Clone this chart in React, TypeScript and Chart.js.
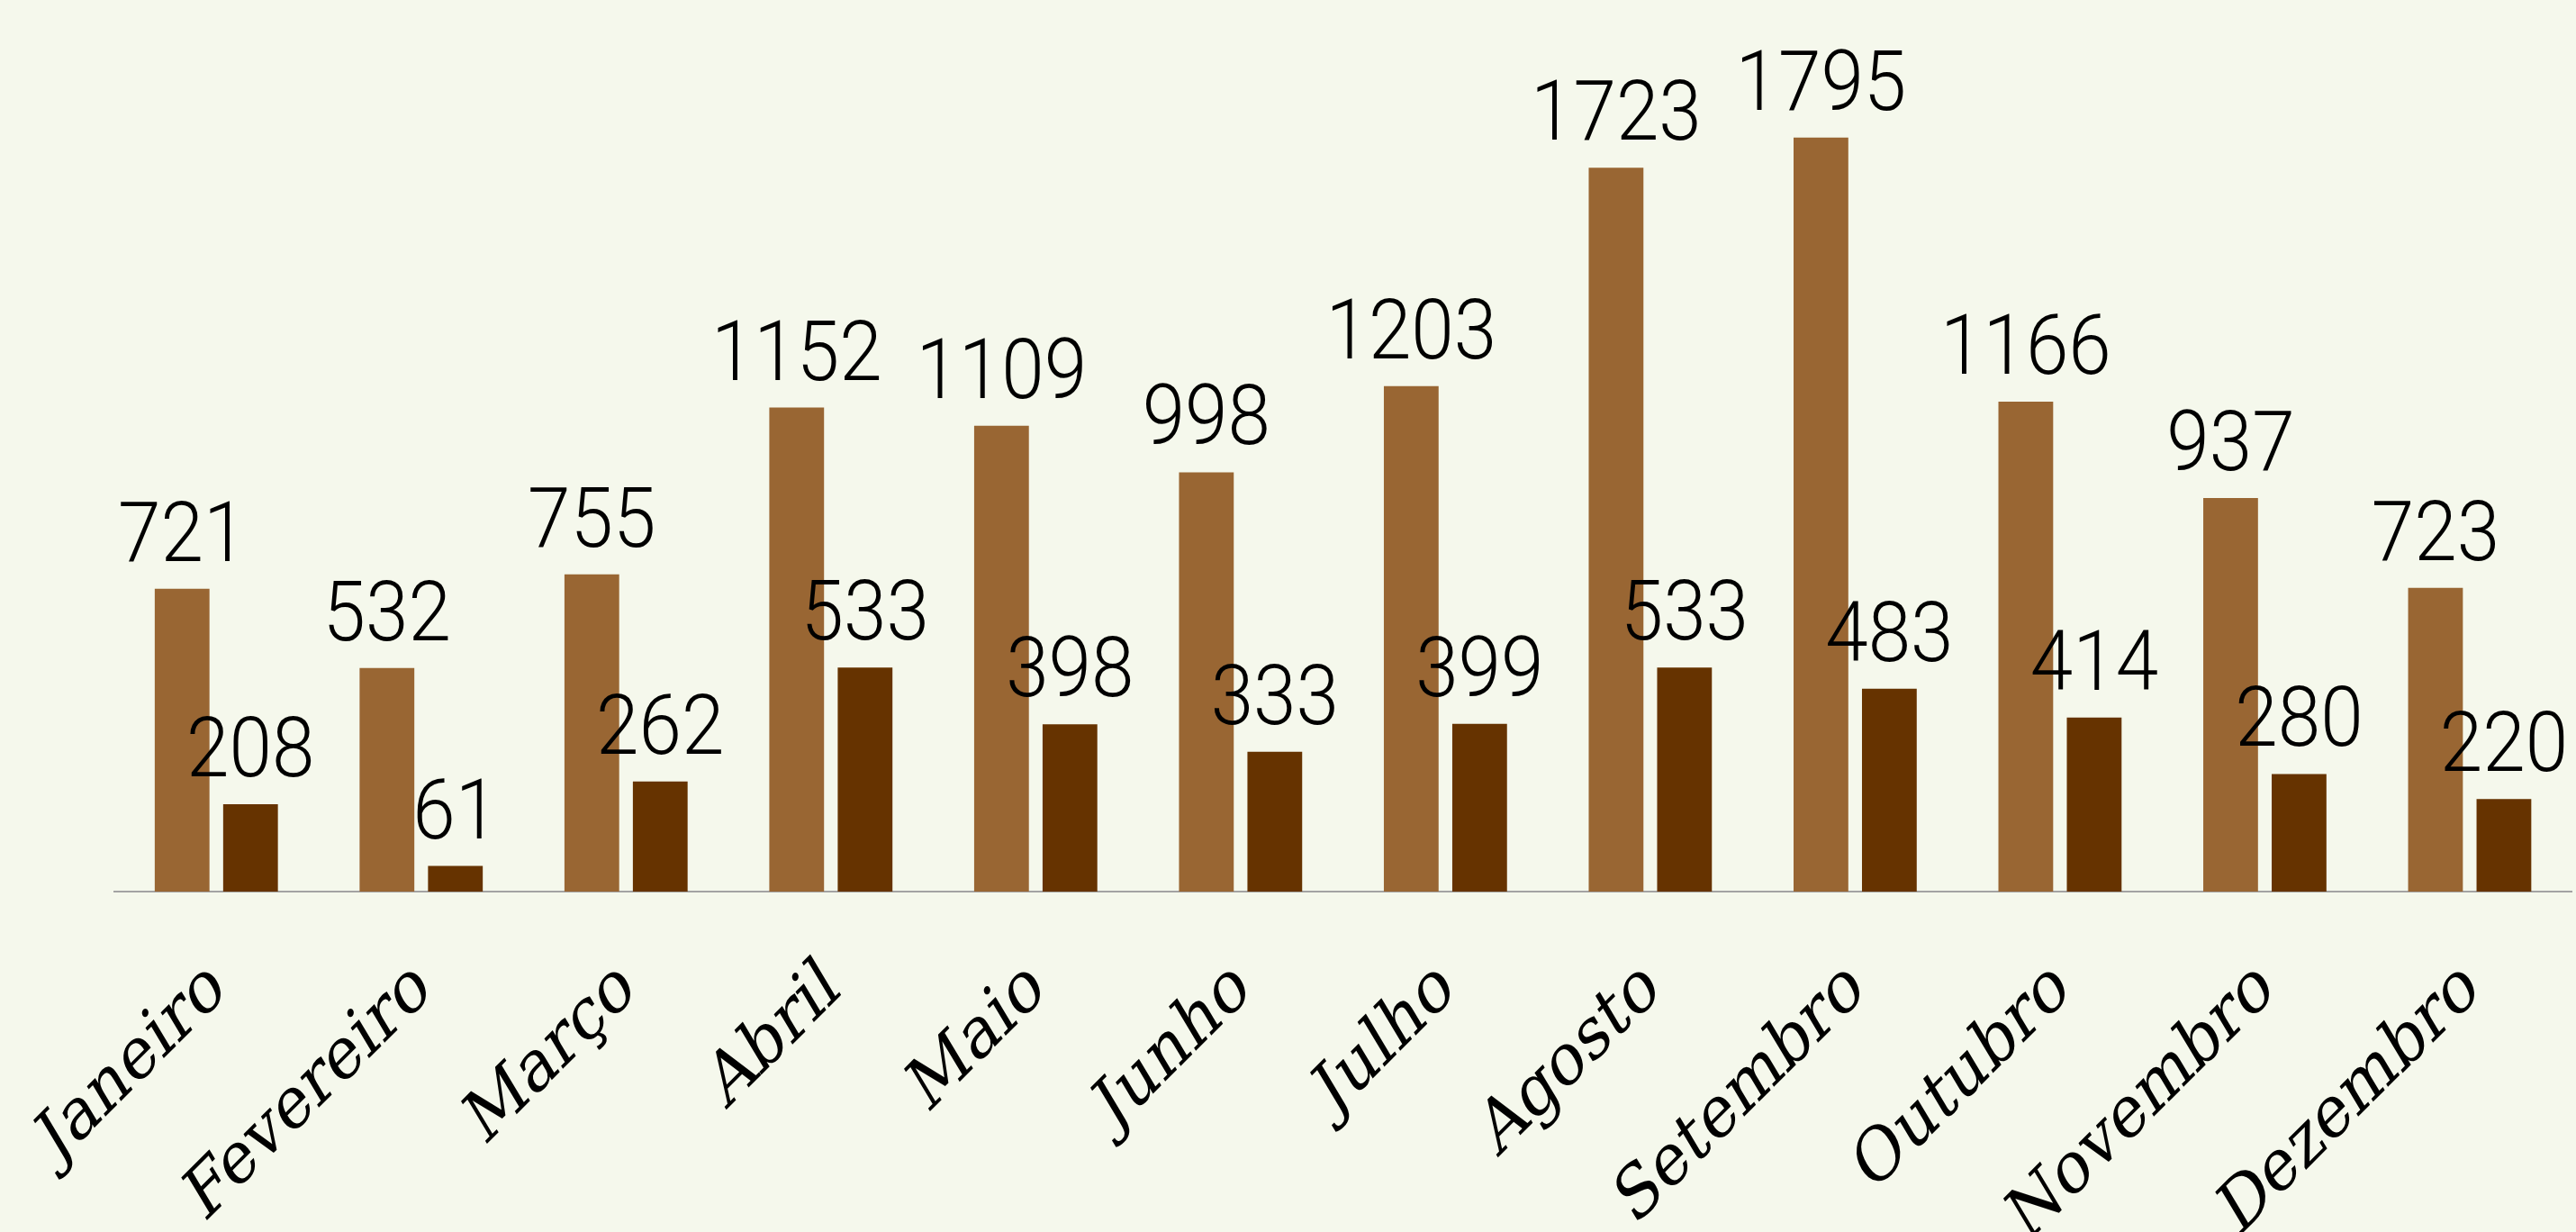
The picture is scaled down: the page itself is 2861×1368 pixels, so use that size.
import React, { useEffect, useRef } from "react";
import { Chart, registerables } from "chart.js";

Chart.register(...registerables);

const categories = [
  "Janeiro", "Fevereiro", "Março", "Abril", "Maio", "Junho",
  "Julho", "Agosto", "Setembro", "Outubro", "Novembro", "Dezembro",
];
const seriesA = [721, 532, 755, 1152, 1109, 998, 1203, 1723, 1795, 1166, 937, 723];
const seriesB = [208, 61, 262, 533, 398, 333, 399, 533, 483, 414, 280, 220];

const W = 2861;
const H = 1368;

const FONT_CSS = `@font-face { font-family: "SerifUpright"; src: local("DejaVu Serif"), local("DejaVuSerif"); font-style: normal; font-weight: 400; }`;

const valueLabels = {
  id: "valueLabels",
  afterDatasetsDraw(chart: any) {
    const ctx = chart.ctx;
    const sx = 0.93;
    chart.data.datasets.forEach((ds: any, di: number) => {
      const meta = chart.getDatasetMeta(di);
      meta.data.forEach((el: any, i: number) => {
        ctx.save();
        ctx.font = '300 92px Roboto, "DejaVu Sans Condensed", sans-serif';
        ctx.fillStyle = "#000000";
        ctx.textAlign = "center";
        ctx.textBaseline = "alphabetic";
        ctx.translate(el.x, el.y - 31);
        ctx.scale(sx, 1);
        ctx.fillText(String(ds.data[i]), 0, 0);
        ctx.restore();
      });
    });
  },
};

export default function App() {
  const ref = useRef<HTMLCanvasElement | null>(null);
  useEffect(() => {
    let chart: any = null;
    let cancelled = false;
    const build = () => {
      if (cancelled || !ref.current) return;
      chart = new Chart(ref.current, {
        type: "bar",
        data: {
          labels: categories,
          datasets: [
            { label: "A", data: seriesA, backgroundColor: "#996633" },
            { label: "B", data: seriesB, backgroundColor: "#663300" },
          ],
        },
        options: {
          responsive: false,
          animation: false,
          devicePixelRatio: 1,
          datasets: { bar: { categoryPercentage: 0.668, barPercentage: 0.8 } },
          layout: { padding: { left: 126.5, right: 4.3, top: 57, bottom: 0 } },
          plugins: { legend: { display: false }, tooltip: { enabled: false } },
          scales: {
            x: {
              grid: { display: false, drawTicks: false },
              border: { display: true, color: "#a3a3a3", width: 2 },
              ticks: {
                autoSkip: false,
                minRotation: 45,
                maxRotation: 45,
                padding: 68,
                color: "#000000",
                font: { family: '"SerifUpright", "DejaVu Serif", serif', size: 74, style: "italic" },
              },
              afterFit: (scale: any) => {
                scale.height = H - 990;
                scale.paddingLeft = 0;
                scale.paddingRight = 0;
              },
            },
            y: {
              display: false,
              min: 0,
              max: 2000,
            },
          },
        },
        plugins: [valueLabels],
      });
    };
    const fonts: any = (document as any).fonts;
    if (fonts && fonts.load) {
      Promise.all([
        fonts.load('italic 74px "SerifUpright"'),
        fonts.load('300 92px Roboto'),
      ])
        .catch(() => null)
        .then(() => build());
    } else {
      build();
    }
    return () => {
      cancelled = true;
      if (chart) chart.destroy();
    };
  }, []);
  return (
    <div
      style={{
        position: "fixed",
        left: 0,
        top: 0,
        width: W,
        height: H,
        overflow: "hidden",
        background: "#f5f8ec",
      }}
    >
      <style>{FONT_CSS}</style>
      <canvas ref={ref} width={W} height={H} style={{ display: "block" }} />
    </div>
  );
}
